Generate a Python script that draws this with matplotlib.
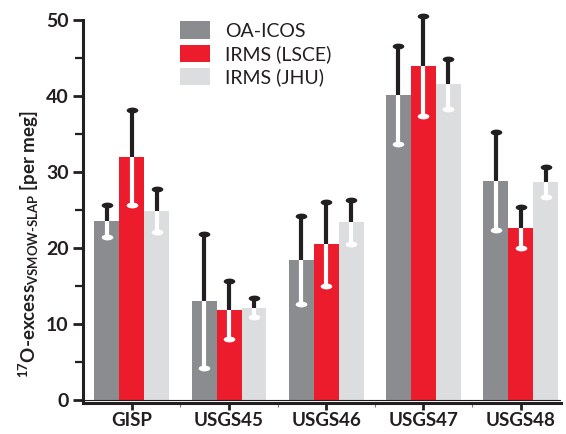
import numpy as np
import matplotlib
matplotlib.use("Agg")
import matplotlib.pyplot as plt
from matplotlib.path import Path
from matplotlib.patches import Patch
from matplotlib.ticker import MultipleLocator, FixedLocator

plt.rcParams['font.family'] = ['Lato', 'DejaVu Sans']
plt.rcParams['mathtext.fontset'] = 'custom'
plt.rcParams['mathtext.rm'] = 'Lato:bold'
plt.rcParams['mathtext.it'] = 'Lato:bold'

# Reference waters and measurement methods
samples = ["GISP", "USGS45", "USGS46", "USGS47", "USGS48"]
methods = ["OA-ICOS", "IRMS (LSCE)", "IRMS (JHU)"]

# 17O-excess means [per meg]
oa_icos = [23.6, 13.1, 18.4, 40.1, 28.8]
irms_lsce = [31.9, 11.9, 20.5, 43.9, 22.7]
irms_jhu = [24.9, 12.2, 23.4, 41.5, 28.7]

# Uncertainties [per meg]
oa_icos_err = [2.1, 8.8, 5.8, 6.4, 6.4]
irms_lsce_err = [6.2, 3.8, 5.5, 6.5, 2.7]
irms_jhu_err = [2.8, 1.2, 2.9, 3.3, 2.0]

colors = ["#8b8c90", "#ec1c2c", "#dcdddf"]
ink = "#231f20"

# flat elliptical cap for the error-bar ends
t = np.linspace(0, 2 * np.pi, 40)
cap = Path(np.column_stack([np.cos(t), 0.5 * np.sin(t)]), closed=True)

fig = plt.figure(figsize=(5.66, 4.34), dpi=100)
ax = fig.add_axes([0.147, 0.072, 0.845, 0.883])

x = np.arange(len(samples))
width = 0.257
offsets = [-width, 0.0, width]
series = [oa_icos, irms_lsce, irms_jhu]
errors = [oa_icos_err, irms_lsce_err, irms_jhu_err]

for vals, errs, off, col, lab in zip(series, errors, offsets, colors, methods):
    vals = np.asarray(vals)
    errs = np.asarray(errs)
    xs = x + off
    ax.bar(xs, vals, width=width, color=col, label=lab, zorder=2)
    # upper half in black, lower half in white
    ax.vlines(xs, vals, vals + errs, color=ink, lw=3.0, zorder=3, clip_on=False)
    ax.vlines(xs, vals - errs, vals, color="white", lw=3.0, zorder=3)
    ax.scatter(xs, vals + errs, marker=cap, s=70, color=ink, lw=0, zorder=4,
               clip_on=False)
    ax.scatter(xs, vals - errs, marker=cap, s=70, color="white", lw=0, zorder=4)

ax.axhline(0, color=ink, lw=0.8, zorder=5)
ax.set_xlim(-0.5, 4.42)
ax.set_ylim(-0.3, 50)

for s in ["top", "right"]:
    ax.spines[s].set_visible(False)
for s in ["left", "bottom"]:
    ax.spines[s].set_linewidth(2.2)
    ax.spines[s].set_color(ink)
ax.spines["left"].set_bounds(0, 50)

ax.set_xticks(x)
ax.set_xticklabels(samples)
ax.xaxis.set_minor_locator(FixedLocator(x[:-1] + 0.5))
ax.yaxis.set_major_locator(MultipleLocator(10))
ax.yaxis.set_minor_locator(MultipleLocator(5))
ax.tick_params(axis="both", which="major", direction="out", length=7, width=2,
               color=ink, labelsize=14, labelcolor=ink)
ax.tick_params(axis="y", which="minor", direction="out", length=6, width=1.6, color=ink)
ax.tick_params(axis="x", which="minor", direction="out", length=3, width=0.8, color="#777777")
ax.tick_params(axis="x", which="major", length=5, pad=1.5, labelsize=13.5)
for lbl in ax.get_xticklabels() + ax.get_yticklabels():
    lbl.set_fontweight("bold")

ax.set_ylabel(r"$^{17}$O-excess$_{\mathregular{VSMOW}\text{-}\mathregular{SLAP}}$ [per meg]",
              fontsize=13.5, color=ink, fontweight="bold")
ax.yaxis.set_label_coords(-0.088, 0.414)

handles = [Patch(facecolor=c, edgecolor="none") for c in colors]
ax.legend(handles, methods, loc="upper left", bbox_to_anchor=(0.203, 0.995),
          frameon=False, fontsize=14, handlelength=1.55, handleheight=0.98,
          handletextpad=0.75, labelspacing=0.26, borderaxespad=0.0,
          borderpad=0.0, labelcolor=ink)

fig.savefig("out.png", dpi=100)
